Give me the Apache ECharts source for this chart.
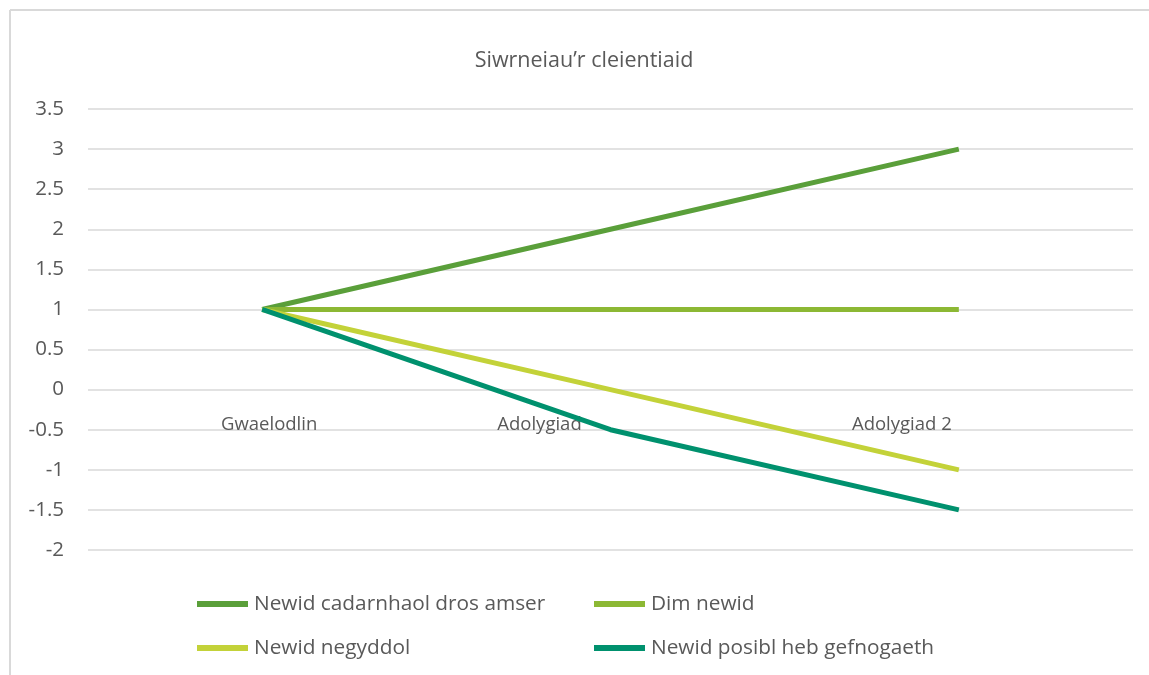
<!DOCTYPE html>
<html>
<head>
<meta charset="utf-8">
<script src="https://cdn.jsdelivr.net/npm/echarts@6/dist/echarts.min.js"></script>
<style>
html,body{margin:0;padding:0;background:#fff;}
#chart{width:1149px;height:675px;}
</style>
</head>
<body>
<div id="chart"></div>
<script>
const titleText = "Siwrneiau\u2019r cleientiaid";
const categories = ["Gwaelodlin", "Adolygiad", "Adolygiad 2"];
const seriesNames = ["Newid cadarnhaol dros amser", "Dim newid", "Newid negyddol", "Newid posibl heb gefnogaeth"];
const positiveValues = [1, 2, 3];
const noChangeValues = [1, 1, 1];
const negativeValues = [1, 0, -1];
const possibleValues = [1, -0.5, -1.5];
const colors = ["#5A9F3A", "#8CB834", "#C3D239", "#00916E"];

const FONT = "'Open Sans', sans-serif";
const TXT = "#595959";

const chart = echarts.init(document.getElementById('chart'));

function mkSeries(name, data, color) {
  return {
    name: name, type: 'line', data: data, symbol: 'none',
    lineStyle: { width: 5, color: color, cap: 'butt', join: 'round' },
    itemStyle: { color: color },
    emphasis: { disabled: true }, animation: false
  };
}

const legendCommon = {
  orient: 'vertical', top: 592, padding: 0, itemWidth: 51, itemHeight: 6, itemGap: 20,
  icon: 'rect',
  textStyle: { fontFamily: FONT, fontSize: 20.8, color: TXT, lineHeight: 24, padding: [0, 0, 0, 1] },
  selectedMode: false
};

chart.setOption({
  animation: false,
  backgroundColor: '#fff',
  title: {
    text: titleText, left: 579, top: 45, textAlign: 'center',
    textStyle: { fontFamily: FONT, fontSize: 21.5, fontWeight: 'normal', color: TXT }
  },
  graphic: [
    { type: 'line', shape: { x1: 10, y1: 10, x2: 1149, y2: 10 }, style: { stroke: '#d9d9d9', lineWidth: 2 }, silent: true },
    { type: 'line', shape: { x1: 10, y1: 10, x2: 10, y2: 675 }, style: { stroke: '#d9d9d9', lineWidth: 2 }, silent: true }
  ],
  legend: [
    Object.assign({}, legendCommon, { left: 197, data: [seriesNames[0], seriesNames[2]] }),
    Object.assign({}, legendCommon, { left: 594, data: [seriesNames[1], seriesNames[3]] })
  ],
  grid: { left: 88, right: 16, top: 109, bottom: 125, containLabel: false },
  xAxis: {
    type: 'category', data: categories, boundaryGap: true,
    position: 'bottom', offset: -160,
    axisLine: { show: false, onZero: false },
    axisTick: { show: false },
    splitLine: { show: false },
    axisLabel: {
      margin: 25, fontFamily: FONT, fontSize: 18, color: TXT,
      formatter: function (v, i) { return '{c' + i + '|' + v + '}'; },
      rich: {
        c0: { fontFamily: FONT, fontSize: 18.5, color: TXT, padding: [0, 0, 0, 14] },
        c1: { fontFamily: FONT, fontSize: 18.5, color: TXT, padding: [0, 142, 0, 0] },
        c2: { fontFamily: FONT, fontSize: 18.5, color: TXT, padding: [0, 114, 0, 0] }
      }
    }
  },
  yAxis: {
    type: 'value', min: -2, max: 3.5, interval: 0.5,
    axisLine: { show: false }, axisTick: { show: false },
    splitLine: { lineStyle: { color: '#d9d9d9', width: 1.5 } },
    axisLabel: { margin: 24, fontFamily: FONT, fontSize: 20.5, color: TXT }
  },
  series: [
    mkSeries(seriesNames[0], positiveValues, colors[0]),
    mkSeries(seriesNames[1], noChangeValues, colors[1]),
    mkSeries(seriesNames[2], negativeValues, colors[2]),
    mkSeries(seriesNames[3], possibleValues, colors[3])
  ]
});
</script>
</body>
</html>
